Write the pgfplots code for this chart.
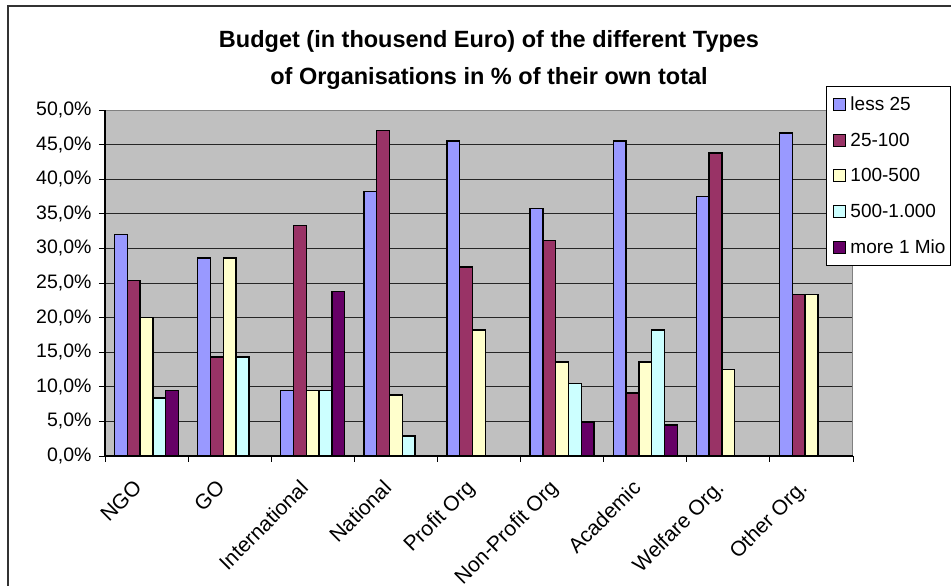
\documentclass[border=0pt]{standalone}
\usepackage{pgfplots}
\pgfplotsset{compat=1.18}
\usepackage{fontspec}
\setmainfont{Liberation Sans}
\definecolor{cA}{HTML}{9999FF}
\definecolor{cB}{HTML}{993366}
\definecolor{cC}{HTML}{FFFFCC}
\definecolor{cD}{HTML}{CCFFFF}
\definecolor{cE}{HTML}{660066}
\definecolor{bgG}{HTML}{C0C0C0}
\begin{document}
\begin{tikzpicture}[x=1pt,y=1pt]
\path[use as bounding box] (0,0) rectangle (951,586);
\clip (0,0) rectangle (951,586);
\draw[line width=1.8pt, black!80] (8,-20) rectangle (990,580);
\node[font=\bfseries\fontsize{23.5}{37}\selectfont, align=center] at (489,526.5)
  {Budget (in thousend Euro) of the different Types\\of Organisations in \% of their own total};
\begin{axis}[
  at={(105pt,130pt)}, anchor=south west,
  scale only axis, width=748pt, height=346pt,
  xmin=-0.5, xmax=8.5, ymin=0, ymax=50,
  ybar=0pt, bar width=12.8pt,
  axis background/.style={fill=bgG},
  axis line style={draw=gray, line width=1pt},
  ytick={0,5,...,50},
  yticklabel={\pgfmathprintnumber[assume math mode=true,fixed,fixed zerofill,precision=1,use comma]{\tick}\%},
  ymajorgrids, major grid style={black!85, line width=0.9pt},
  xtick={0,...,8}, major x tick style={draw=none},
  minor xtick={-0.5,0.5,...,8.5},
  xticklabels={NGO,GO,International,National,Profit Org,Non-Profit Org,Academic,Welfare Org.,Other Org.},
  xticklabel style={xshift=-14pt, yshift=-15pt, rotate=45, anchor=north east, inner sep=1pt, font=\fontsize{21}{24}\selectfont},
  yticklabel style={xshift=-4pt, font=\fontsize{19.5}{22}\selectfont},
  xtick pos=bottom, ytick pos=left, tick align=outside,
  major tick length=6pt, minor tick length=6pt,
  tick style={black, line width=0.9pt},
  legend style={at={(0.964,1.069)}, anchor=north west, draw=black, line width=0.8pt, fill=white,
    font=\fontsize{19}{22}\selectfont, row sep=19pt, inner xsep=4pt, inner ysep=9pt,
    nodes={inner sep=1pt}},
  legend cell align=left,
  legend image code/.code={\path[draw=none,fill=none] (0pt,0pt) -- (19pt,0pt);\draw[#1, line width=1pt, draw=black] (3pt,-6pt) rectangle (15pt,6pt);},
  every axis plot/.append style={draw=black, line width=1.4pt},
  clip=false,
]
\addplot[fill=cA] coordinates {(0,32.0) (1,28.6) (2,9.5) (3,38.2) (4,45.5) (5,35.8) (6,45.5) (7,37.5) (8,46.7)};
\addplot[fill=cB] coordinates {(0,25.4) (1,14.3) (2,33.3) (3,47.0) (4,27.3) (5,31.1) (6,9.1) (7,43.8) (8,23.3)};
\addplot[fill=cC] coordinates {(0,20.0) (1,28.6) (2,9.5) (3,8.8) (4,18.2) (5,13.6) (6,13.6) (7,12.5) (8,23.3)};
\addplot[fill=cD] coordinates {(0,8.4) (1,14.3) (2,9.5) (3,2.9) (5,10.5) (6,18.2)};
\addplot[fill=cE] coordinates {(0,9.5) (2,23.8) (5,4.9) (6,4.5)};
\legend{less 25,25-100,100-500,500-1.000,more 1 Mio}
\draw[black, line width=1.2pt] (rel axis cs:0,0) -- (rel axis cs:0,1);
\draw[black, line width=1.2pt] (rel axis cs:0,0) -- (rel axis cs:1,0);
\end{axis}
\end{tikzpicture}
\end{document}
